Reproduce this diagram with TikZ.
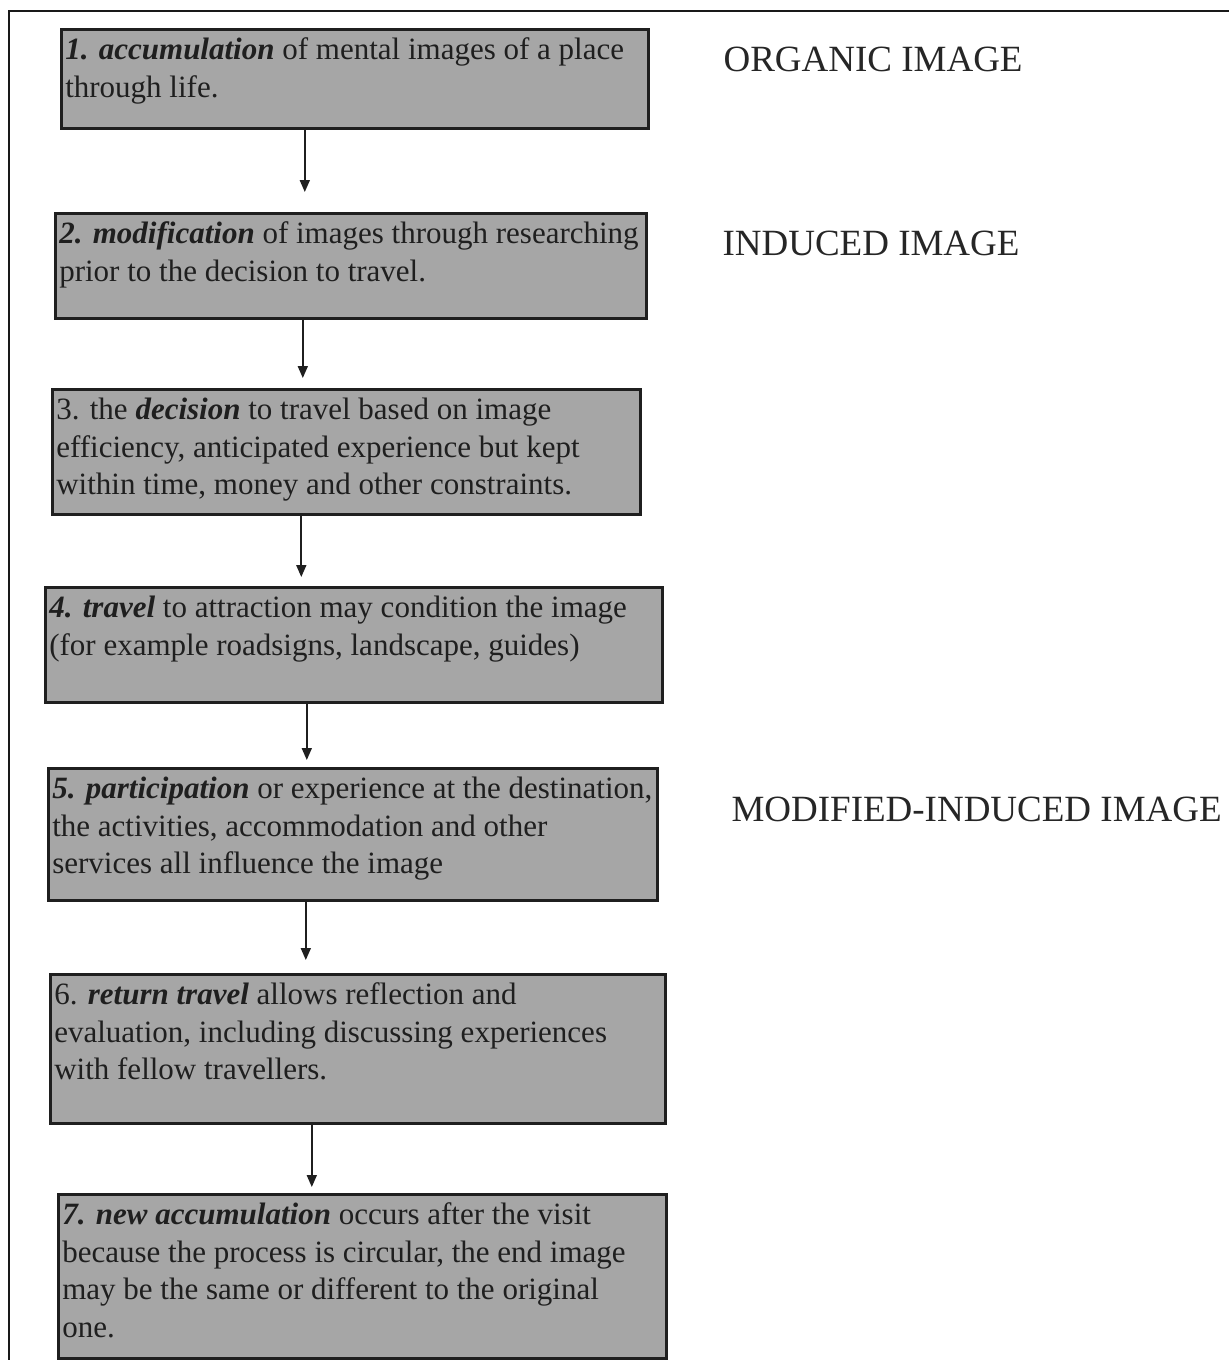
\documentclass[tikz,border=0pt]{standalone}
\usepackage{fontspec}
\setmainfont{Liberation Serif}
\usetikzlibrary{arrows.meta,positioning}

\begin{document}
\begin{tikzpicture}[
  x=1pt, y=1pt,
  >={Triangle[length=12pt,width=10pt]},
  stage/.style={
    rectangle, draw=black!88, fill=black!35, line width=2.6pt,
    anchor=north west, inner xsep=4pt, inner ysep=4pt,
    text=black!88, font=\fontsize{31}{37.5}\selectfont
  },
  flow/.style={->, draw=black!88, line width=1.8pt},
  tag/.style={anchor=base west, text=black!85, font=\fontsize{37}{44}\selectfont}
]
\useasboundingbox (0,0) rectangle (1229,-1360);

% Frame
\draw[black!90, line width=2pt] (9,-1360) -- (9,-11) -- (1229,-11);

% -- Stages --
\node[stage] (acc) at (60,-28)
  {\parbox[c][91pt][t]{579pt}{\strut\textbf{\textit{1. accumulation}} of mental images of a place\\
   through life.}};
\node[stage] (mod) at (54,-212)
  {\parbox[c][97pt][t]{583pt}{\strut\textbf{\textit{2. modification}} of images through researching\\
   prior to the decision to travel.}};
\node[stage] (dec) at (51,-388)
  {\parbox[c][117pt][t]{580pt}{\strut 3. the \textbf{\textit{decision}} to travel based on image\\
   efficiency, anticipated experience but kept\\
   within time, money and other constraints.}};
\node[stage] (trv) at (44,-586)
  {\parbox[c][107pt][t]{609pt}{\strut\textbf{\textit{4. travel}} to attraction may condition the image\\
   (for example roadsigns, landscape, guides)}};
\node[stage] (par) at (47,-767)
  {\parbox[c][124pt][t]{601pt}{\strut\textbf{\textit{5. participation}} or experience at the destination,\\
   the activities, accommodation and other\\
   services all influence the image}};
\node[stage] (ret) at (49,-973)
  {\parbox[c][141pt][t]{607pt}{\strut 6. \textbf{\textit{return travel}} allows reflection and\\
   evaluation, including discussing experiences\\
   with fellow travellers.}};
\node[stage] (new) at (57,-1193)
  {\parbox[c][156pt][t]{600pt}{\strut\textbf{\textit{7. new accumulation}} occurs after the visit\\
   because the process is circular, the end image\\
   may be the same or different to the original\\
   one.}};

% -- Image types --
\node[tag] (organic)  at (720,-71)  {ORGANIC IMAGE};
\node[tag] (induced)  at (719,-255) {INDUCED IMAGE};
\node[tag] (modified) at (728,-821) {MODIFIED-INDUCED IMAGE};

% -- Arrows --
\draw[flow, shorten >=20pt] ([xshift=-50pt]acc.south) -- ([xshift=-50pt]acc.south |- mod.north);
\draw[flow, shorten >=10pt] ([xshift=-48pt]mod.south) -- ([xshift=-48pt]mod.south |- dec.north);
\draw[flow, shorten >=9pt]  ([xshift=-45pt]dec.south) -- ([xshift=-45pt]dec.south |- trv.north);
\draw[flow, shorten >=7pt]  ([xshift=-47pt]trv.south) -- ([xshift=-47pt]trv.south |- par.north);
\draw[flow, shorten >=13pt] ([xshift=-47pt]par.south) -- ([xshift=-47pt]par.south |- ret.north);
\draw[flow, shorten >=6pt]  ([xshift=-46pt]ret.south) -- ([xshift=-46pt]ret.south |- new.north);

\end{tikzpicture}
\end{document}
